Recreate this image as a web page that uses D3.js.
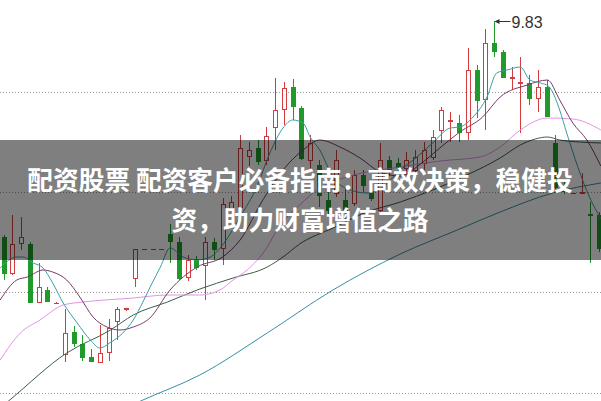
<!DOCTYPE html>
<html><head><meta charset="utf-8">
<script src="https://cdn.jsdelivr.net/npm/d3@7"></script>
<style>html,body{margin:0;padding:0;background:#fff;overflow:hidden}svg{display:block}</style>
</head><body>
<svg id="c" width="601" height="401"></svg>
<script>
// ---- data (candle index 0..68) ----
const opens  = [7.67,7.31,7.61,7.60,7.02,7.14,7.01,6.50,6.72,6.60,6.47,6.42,6.52,6.83,6.95,7.26,7.55,7.55,7.55,7.70,7.62,7.27,7.45,7.39,7.62,7.56,7.96,7.97,8.48,8.56,8.44,8.77,8.95,9.17,8.96,8.44,8.39,8.04,8.11,8.04,8.01,8.29,8.12,7.94,8.44,8.41,8.36,8.34,8.41,8.47,8.74,8.83,8.81,8.72,9.34,9.05,9.61,9.52,9.26,9.21,9.21,9.06,9.17,8.61,8.19,8.11,8.11,7.90,7.89];
const highs  = [7.69,7.89,7.87,7.62,7.41,7.17,7.02,6.95,6.78,6.69,6.55,6.79,6.85,6.97,6.96,7.55,7.55,7.55,7.55,7.80,7.67,7.49,7.48,7.67,7.66,8.06,8.08,8.69,8.62,8.64,8.77,9.26,9.22,9.25,8.98,8.69,8.44,8.12,8.54,8.17,8.34,8.34,8.17,8.61,8.48,8.46,8.52,8.54,8.62,8.74,8.97,8.92,8.89,9.56,9.39,9.75,9.83,9.54,9.37,9.47,9.29,9.34,9.24,8.69,8.24,8.11,8.31,8.02,7.92];
const lows   = [7.24,7.29,7.54,7.01,7.01,7.02,7.00,6.42,6.57,6.43,6.42,6.42,6.43,6.64,6.93,7.17,7.55,7.55,7.55,7.41,7.24,7.23,7.34,7.04,7.44,7.39,7.90,7.94,8.38,8.39,8.39,8.54,8.79,8.84,8.44,8.34,7.97,7.87,8.07,7.71,7.98,8.12,8.03,7.92,8.28,8.32,8.29,8.29,8.34,8.44,8.61,8.62,8.62,8.64,8.86,8.74,9.47,9.26,9.14,8.71,8.99,8.92,8.88,8.15,8.10,8.11,8.10,7.41,7.52];
const closes = [7.31,7.60,7.67,7.02,7.17,7.03,7.01,6.71,6.61,6.47,6.43,6.51,6.76,6.95,6.96,7.55,7.55,7.55,7.55,7.63,7.26,7.44,7.37,7.62,7.55,8.00,8.02,8.56,8.54,8.43,8.68,8.94,9.16,8.98,8.46,8.61,8.09,7.94,8.44,7.94,8.29,8.19,8.06,8.44,8.34,8.37,8.44,8.47,8.54,8.67,8.94,8.84,8.72,9.34,9.04,9.61,9.53,9.27,9.27,9.22,9.06,9.17,8.88,8.17,8.13,8.11,8.12,7.89,7.56];

// moving averages (position in candle index, price)
const ma5Idx  = [-0.4,1.5,2.2,3.4,4.5,5.6,6.8,8.4,9.9,11,12.1,13.6,14.8,15.9,16.9,17.9,19,20.5,22.1,23.6,25,27,28.9,30.4,31.9,33,34.2,35,36.1,37.6,39.6,41.5,43.3,45.3,47.2,49,51,52.1,53.6,55.2,56.3,57.5,59,60.1,61.3,62.2,63.5,64.3,66.9,68.2];
const ma5     = [7.36,7.47,7.47,7.41,7.36,7.21,7.01,6.81,6.64,6.56,6.61,6.71,6.84,7.02,7.20,7.37,7.56,7.47,7.44,7.47,7.59,7.87,8.17,8.51,8.76,8.84,8.81,8.67,8.54,8.27,8.14,8.11,8.17,8.34,8.47,8.61,8.76,8.77,8.87,9.07,9.31,9.34,9.37,9.24,9.21,9.18,8.94,8.71,8.07,7.85];
const ma10Idx = [-0.4,1.5,2.7,4.5,5.6,7.2,8.7,10.2,11.8,13.3,14.8,16.7,19,22.1,25,27,29.6,31.9,34.2,36.1,38.4,40.7,43,45.3,47.6,49.8,52.1,54.7,56.7,59.8,62.1,63.5,65,66.6,68.2];
const ma10    = [7.04,7.24,7.27,7.34,7.32,7.24,7.07,6.87,6.77,6.74,6.77,6.86,7.14,7.37,7.47,7.64,8.04,8.34,8.54,8.64,8.57,8.46,8.32,8.28,8.40,8.56,8.72,8.87,9.07,9.19,9.24,9.04,8.81,8.64,8.38];
const ma20Idx = [-0.4,1.9,4.15,6.8,9.1,14.8,18.7,22.4,24.7,26.2,27.8,30.1,31.2,33.8,36.1,39.6,45.3,49.8,54.4,56.7,59,62.1,65,68.2];
const ma20    = [6.44,6.71,6.84,6.99,7.02,7.06,7.09,7.09,7.14,7.24,7.34,7.57,7.74,7.99,8.16,8.28,8.37,8.43,8.47,8.57,8.74,8.86,8.85,8.74];
const ma30Idx = [-0.4,0.7,7.2,12.2,14.8,18.7,22.4,26.2,30.1,31.9,33.8,37.6,41.5,45.3,49,52.9,56.7,59,60.7,62.1,63.5,65.8,68.2];
const ma30    = [5.96,6.04,6.51,6.74,6.89,7.02,7.15,7.26,7.37,7.47,7.60,7.76,7.92,8.02,8.14,8.29,8.46,8.59,8.65,8.67,8.64,8.62,8.61];
const ma60Idx = [13.9,15.9,22.4,30.1,37.6,45.3,51.8,56.7,62.7,68.2];
const ma60    = [5.96,6.04,6.29,6.71,7.14,7.50,7.74,7.92,8.11,8.21];

const gridPrices = [9.12, 8.12, 7.12, 6.11];
const peakLabel = "9.83";
const titleLines = ["配资股票 配资客户必备指南：高效决策，稳健投", "资，助力财富增值之路"];

// ---- drawing ----
const W = 601, H = 401;
const svg = d3.select("#c");
const x = d3.scaleLinear().domain([0, 68]).range([3.66, 599.1]);
const y = d3.scaleLinear().domain([10.04, 6.03]).range([0, 401]);
const RED = "#d23c3c", GREEN = "#1f9a2b";

svg.append("rect").attr("width", W).attr("height", H).attr("fill", "#fff");

// grid
svg.append("g").selectAll("line").data(gridPrices).join("line")
  .attr("x1", 0).attr("x2", W)
  .attr("y1", d => Math.round(y(d)) + 0.5).attr("y2", d => Math.round(y(d)) + 0.5)
  .attr("stroke", "#9a9a9a").attr("stroke-width", 1).attr("stroke-dasharray", "1 2");

// candles
const cg = svg.append("g");
closes.forEach((c, i) => {
  const o = opens[i], hi = highs[i], lo = lows[i];
  const up = c >= o;
  const col = up ? RED : GREEN;
  const cx = Math.round(x(i));
  const yo = y(o), yc = y(c), yh = y(hi), yl = y(lo);
  const top = Math.round(Math.min(yo, yc)), bot = Math.round(Math.max(yo, yc));
  if (yl - yh > 0.5) {
    cg.append("line").attr("x1", cx + 0.5).attr("x2", cx + 0.5)
      .attr("y1", Math.round(yh)).attr("y2", Math.round(yl))
      .attr("stroke", col).attr("stroke-width", 1);
  }
  if (bot - top < 1) {
    cg.append("line").attr("x1", cx - 2).attr("x2", cx + 3)
      .attr("y1", top + 0.5).attr("y2", top + 0.5)
      .attr("stroke", col).attr("stroke-width", 1);
  } else if (up) {
    cg.append("rect").attr("x", cx - 1.5).attr("y", top + 0.5)
      .attr("width", 4).attr("height", bot - top)
      .attr("fill", "#fff").attr("stroke", col).attr("stroke-width", 1);
  } else {
    cg.append("rect").attr("x", cx - 2).attr("y", top)
      .attr("width", 5).attr("height", bot - top + 1)
      .attr("fill", col);
  }
});

// moving averages
const maDefs = [
  [ma60Idx, ma60, "#3492a2"],
  [ma30Idx, ma30, "#3e5c47"],
  [ma20Idx, ma20, "#e094e4"],
  [ma10Idx, ma10, "#773a6b"],
  [ma5Idx,  ma5,  "#3d9fa6"]
];
const line = d3.line().x(d => x(d[0])).y(d => y(d[1])).curve(d3.curveMonotoneX);
maDefs.forEach(([idx, vals, col]) => {
  svg.append("path").datum(idx.map((v, k) => [v, vals[k]]))
    .attr("d", line).attr("fill", "none").attr("stroke", col).attr("stroke-width", 1);
});

// peak label
const pi = highs.indexOf(d3.max(highs));
const px = Math.round(x(pi)) + 0.5, py = Math.round(y(highs[pi])) + 0.5;
svg.append("line").attr("x1", px + 3).attr("x2", px + 16).attr("y1", py).attr("y2", py)
  .attr("stroke", "#333").attr("stroke-width", 1);
svg.append("path").attr("d", `M${px},${py}L${px + 5},${py - 2.5}L${px + 5},${py + 2.5}Z`).attr("fill", "#333");
svg.append("text").attr("x", px + 17).attr("y", py + 6)
  .attr("font-family", "Liberation Sans, Arial, sans-serif").attr("font-size", 16)
  .attr("fill", "#333").text(peakLabel);

// banner
svg.append("rect").attr("x", 0).attr("y", 140).attr("width", W).attr("height", 120)
  .attr("fill", "rgba(0,0,0,0.5)");
svg.append("g").selectAll("text").data(titleLines).join("text")
  .attr("x", 300).attr("y", (d, k) => 190 + k * 40)
  .attr("text-anchor", "middle")
  .attr("font-family", "'Noto Sans CJK SC', 'Noto Sans', sans-serif")
  .attr("font-weight", 700).attr("font-size", 25.7)
  .attr("fill", "#fff").text(d => d);
</script>
</body></html>
